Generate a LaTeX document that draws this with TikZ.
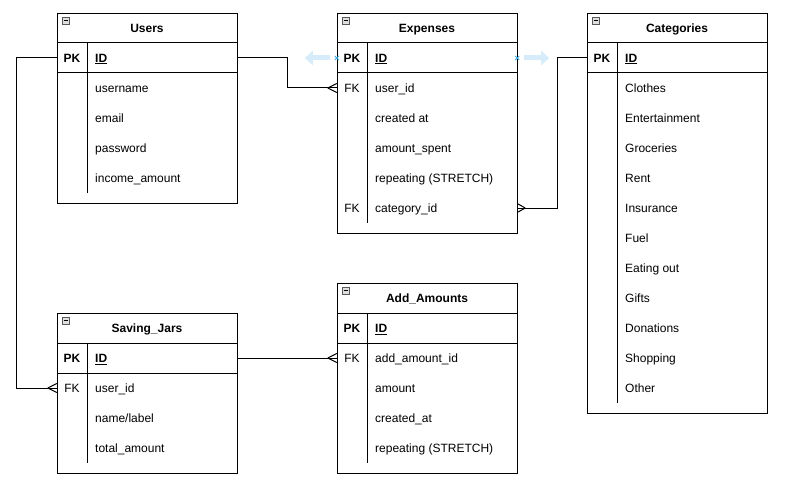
\documentclass[tikz,border=0pt]{standalone}
\usepackage{fontspec}
\setmainfont{Liberation Sans}
\usetikzlibrary{arrows.meta}
\definecolor{hint}{RGB}{214,236,250}
\definecolor{hintx}{RGB}{60,170,230}
\tikzset{
  tbox/.style={draw, line width=1pt, minimum width=180pt, inner sep=0pt, anchor=north west},
  rowbox/.style={minimum width=180pt, minimum height=30pt, inner sep=0pt, draw=none},
  txt/.style={inner sep=0pt, text height=8.6pt, text depth=0pt},
  titlet/.style={txt, font=\bfseries\fontsize{12}{14}\selectfont},
  keyt/.style={txt, font=\bfseries\fontsize{12}{14}\selectfont},
  fkt/.style={txt, font=\fontsize{12}{14}\selectfont},
  namet/.style={txt, anchor=west, font=\fontsize{12}{14}\selectfont},
  idt/.style={txt, anchor=west, font=\bfseries\fontsize{12}{14}\selectfont},
  sep/.style={line width=1pt},
  conn/.style={line width=1pt},
  hintarrow/.style={hint, line width=5pt, -{Triangle[width=14pt,length=8pt]}},
}
\newcommand\collapseicon[2]{%
  \draw[fill=gray!25, draw=gray!70!black, line width=0.5pt] (#1,#2) rectangle ++(7,7);
  \draw[line width=0.6pt] (#1+1.5,#2+3.5) -- ++(4,0);}
\newcommand\crowL[1]{\draw[conn] (#1) ++(-9,0) -- ++(9,-4.5) (#1) ++(-9,0) -- ++(9,4.5);}
\newcommand\crowR[1]{\draw[conn] (#1) ++(8,0) -- ++(-8,-4.5) (#1) ++(8,0) -- ++(-8,4.5);}
\newcommand\hintx[1]{\draw[hintx, line width=0.8pt] (#1) ++(-2,-2) -- ++(4,4) (#1) ++(-2,2) -- ++(4,-4);}
\begin{document}
\begin{tikzpicture}[x=1pt,y=-1pt]
\useasboundingbox[fill=white] (0,0) rectangle (786,497);

% ---------- Users ----------
\node[tbox, minimum height=190pt] (users) at (57,13) {};
\draw[sep] (57,43) -- (237,43) (57,73) -- (237,73) (87,43) -- (87,193);
\node[titlet] at (147,28) {Users};
\collapseicon{62}{17}
\node[rowbox] (users-pk) at (147,58) {};
\node[keyt] at (72,58) {PK};
\node[idt] at (95,58) {\underline{ID}};
\foreach \t [count=\i] in {username,email,password,income\_amount}
  \node[namet] at (95,58+30*\i) {\t};

% ---------- Expenses ----------
\node[tbox, minimum height=220pt] (expenses) at (337,13) {};
\draw[sep] (337,43) -- (517,43) (337,73) -- (517,73) (367,43) -- (367,223);
\node[titlet] at (427,28) {Expenses};
\collapseicon{342}{17}
\node[rowbox] (exp-pk) at (427,58) {};
\node[rowbox] (exp-fk1) at (427,88) {};
\node[rowbox] (exp-fk2) at (427,208) {};
\node[keyt] at (352,58) {PK};
\node[idt] at (375,58) {\underline{ID}};
\node[fkt] at (352,88) {FK};
\node[fkt] at (352,208) {FK};
\foreach \t [count=\i] in {user\_id,created at,amount\_spent,repeating (STRETCH),category\_id}
  \node[namet] at (375,58+30*\i) {\t};

% ---------- Categories ----------
\node[tbox, minimum height=400pt] (categories) at (587,13) {};
\draw[sep] (587,43) -- (767,43) (587,73) -- (767,73) (617,43) -- (617,403);
\node[titlet] at (677,28) {Categories};
\collapseicon{592}{17}
\node[rowbox] (cat-pk) at (677,58) {};
\node[keyt] at (602,58) {PK};
\node[idt] at (625,58) {\underline{ID}};
\foreach \t [count=\i] in {Clothes,Entertainment,Groceries,Rent,Insurance,Fuel,Eating out,Gifts,Donations,Shopping,Other}
  \node[namet] at (625,58+30*\i) {\t};

% ---------- Saving_Jars ----------
\node[tbox, minimum height=160pt] (saving) at (57,313) {};
\draw[sep] (57,343) -- (237,343) (57,373) -- (237,373) (87,343) -- (87,463);
\node[titlet] at (147,328) {Saving\_Jars};
\collapseicon{62}{317}
\node[rowbox] (sav-pk) at (147,358) {};
\node[rowbox] (sav-fk) at (147,388) {};
\node[keyt] at (72,358) {PK};
\node[idt] at (95,358) {\underline{ID}};
\node[fkt] at (72,388) {FK};
\foreach \t [count=\i] in {user\_id,name/label,total\_amount}
  \node[namet] at (95,358+30*\i) {\t};

% ---------- Add_Amounts ----------
\node[tbox, minimum height=190pt] (addamounts) at (337,283) {};
\draw[sep] (337,313) -- (517,313) (337,343) -- (517,343) (367,313) -- (367,463);
\node[titlet] at (427,298) {Add\_Amounts};
\collapseicon{342}{287}
\node[rowbox] (add-pk) at (427,328) {};
\node[rowbox] (add-fk) at (427,358) {};
\node[keyt] at (352,328) {PK};
\node[idt] at (375,328) {\underline{ID}};
\node[fkt] at (352,358) {FK};
\foreach \t [count=\i] in {add\_amount\_id,amount,created\_at,repeating (STRETCH)}
  \node[namet] at (375,328+30*\i) {\t};

% ---------- connectors ----------
\draw[conn] (users-pk.west) -- ++(-40,0) |- (sav-fk.west);
\crowL{sav-fk.west}
\draw[conn] (users-pk.east) -- ++(50,0) |- (exp-fk1.west);
\crowL{exp-fk1.west}
\draw[conn] (exp-fk2.east) -- ++(40,0) |- (cat-pk.west);
\crowR{exp-fk2.east}
\draw[conn] (sav-pk.east) -- (add-fk.west);
\crowL{add-fk.west}

% ---------- hover hints ----------
\coordinate (hl) at ([xshift=-7pt]exp-pk.west);
\coordinate (hr) at ([xshift=7pt]exp-pk.east);
\draw[hintarrow] (hl) -- ++(-25,0);
\draw[hintarrow] (hr) -- ++(25,0);
\hintx{exp-pk.west}
\hintx{exp-pk.east}
\end{tikzpicture}
\end{document}
